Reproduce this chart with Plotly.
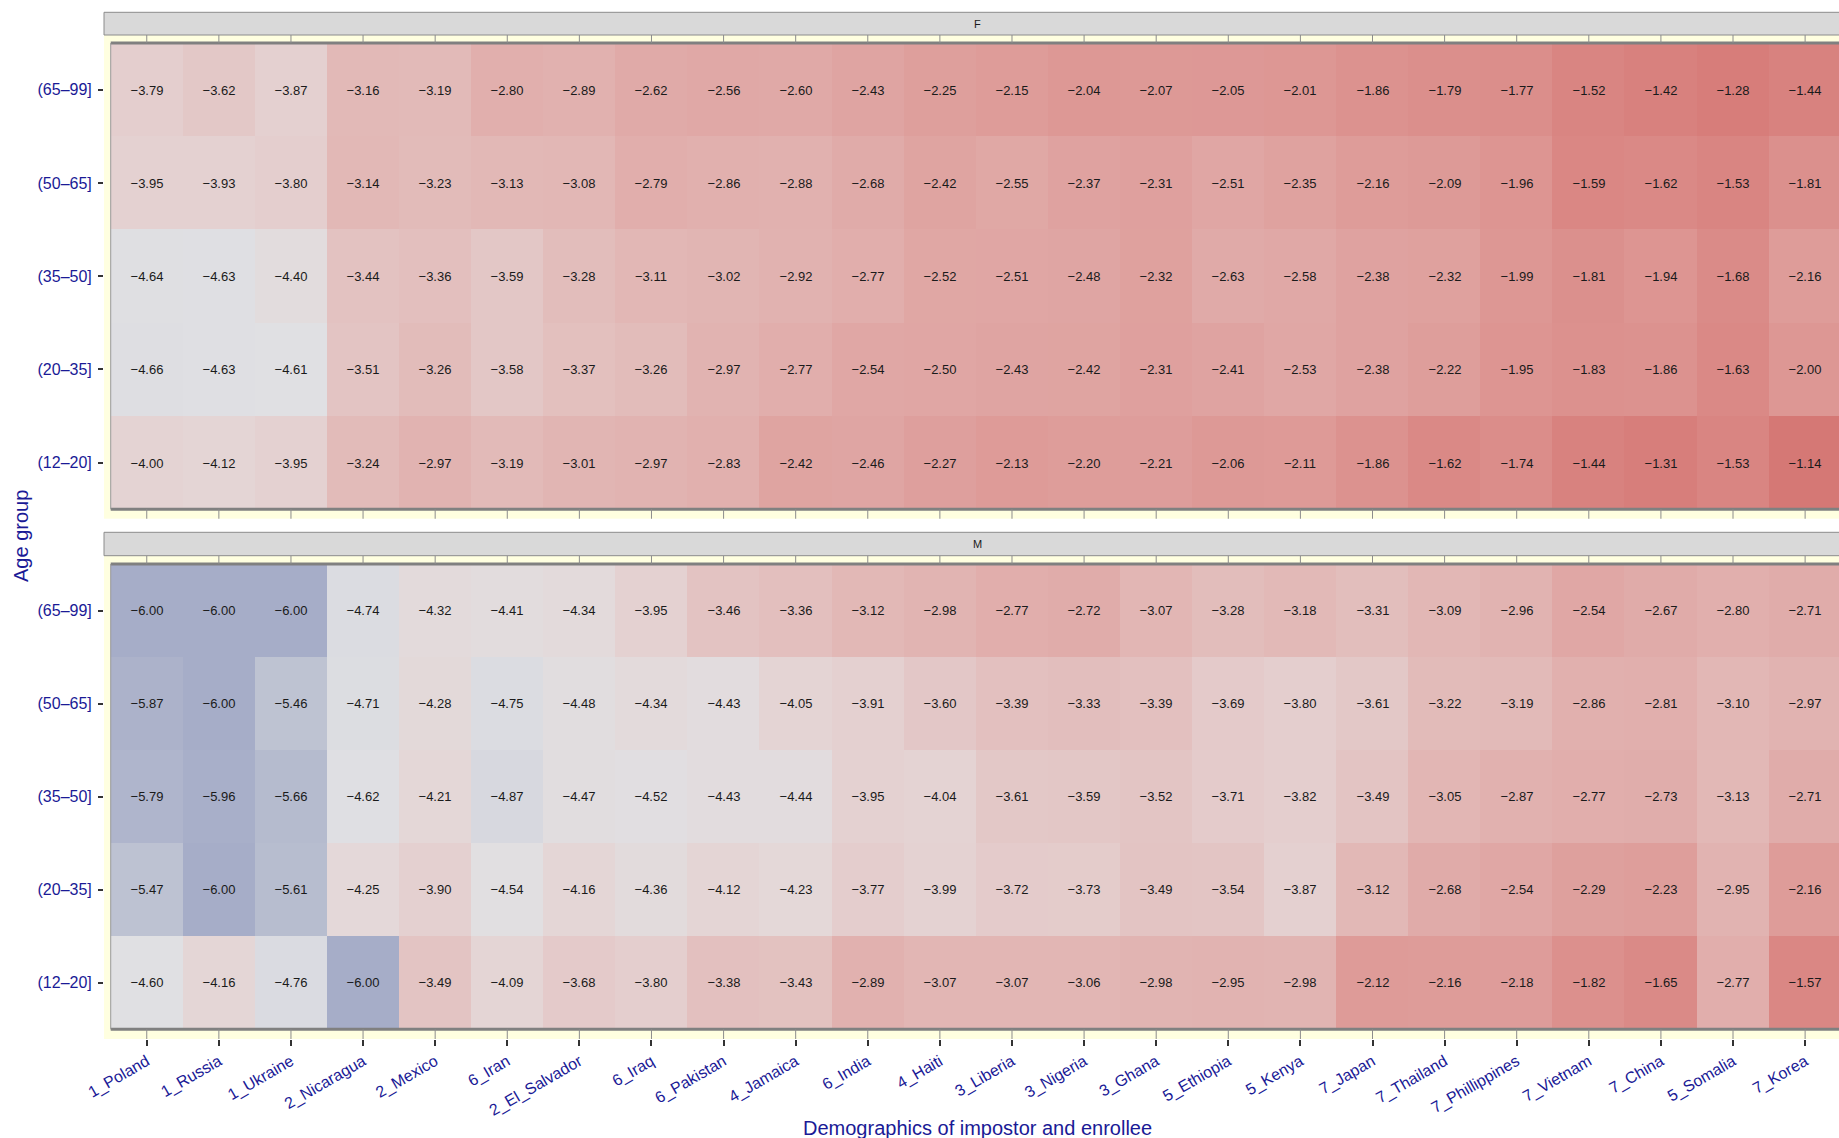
import plotly.graph_objects as go

# categories
countries = ["1_Poland", "1_Russia", "1_Ukraine", "2_Nicaragua", "2_Mexico", "6_Iran",
             "2_El_Salvador", "6_Iraq", "6_Pakistan", "4_Jamaica", "6_India", "4_Haiti",
             "3_Liberia", "3_Nigeria", "3_Ghana", "5_Ethiopia", "5_Kenya", "7_Japan",
             "7_Thailand", "7_Phillippines", "7_Vietnam", "7_China", "5_Somalia", "7_Korea"]
age_groups = ["(12–20]", "(20–35]", "(35–50]", "(50–65]", "(65–99]"]  # bottom -> top

# F panel
f_65_99 = [-3.79, -3.62, -3.87, -3.16, -3.19, -2.80, -2.89, -2.62, -2.56, -2.60, -2.43, -2.25,
           -2.15, -2.04, -2.07, -2.05, -2.01, -1.86, -1.79, -1.77, -1.52, -1.42, -1.28, -1.44]
f_50_65 = [-3.95, -3.93, -3.80, -3.14, -3.23, -3.13, -3.08, -2.79, -2.86, -2.88, -2.68, -2.42,
           -2.55, -2.37, -2.31, -2.51, -2.35, -2.16, -2.09, -1.96, -1.59, -1.62, -1.53, -1.81]
f_35_50 = [-4.64, -4.63, -4.40, -3.44, -3.36, -3.59, -3.28, -3.11, -3.02, -2.92, -2.77, -2.52,
           -2.51, -2.48, -2.32, -2.63, -2.58, -2.38, -2.32, -1.99, -1.81, -1.94, -1.68, -2.16]
f_20_35 = [-4.66, -4.63, -4.61, -3.51, -3.26, -3.58, -3.37, -3.26, -2.97, -2.77, -2.54, -2.50,
           -2.43, -2.42, -2.31, -2.41, -2.53, -2.38, -2.22, -1.95, -1.83, -1.86, -1.63, -2.00]
f_12_20 = [-4.00, -4.12, -3.95, -3.24, -2.97, -3.19, -3.01, -2.97, -2.83, -2.42, -2.46, -2.27,
           -2.13, -2.20, -2.21, -2.06, -2.11, -1.86, -1.62, -1.74, -1.44, -1.31, -1.53, -1.14]

# M panel
m_65_99 = [-6.00, -6.00, -6.00, -4.74, -4.32, -4.41, -4.34, -3.95, -3.46, -3.36, -3.12, -2.98,
           -2.77, -2.72, -3.07, -3.28, -3.18, -3.31, -3.09, -2.96, -2.54, -2.67, -2.80, -2.71]
m_50_65 = [-5.87, -6.00, -5.46, -4.71, -4.28, -4.75, -4.48, -4.34, -4.43, -4.05, -3.91, -3.60,
           -3.39, -3.33, -3.39, -3.69, -3.80, -3.61, -3.22, -3.19, -2.86, -2.81, -3.10, -2.97]
m_35_50 = [-5.79, -5.96, -5.66, -4.62, -4.21, -4.87, -4.47, -4.52, -4.43, -4.44, -3.95, -4.04,
           -3.61, -3.59, -3.52, -3.71, -3.82, -3.49, -3.05, -2.87, -2.77, -2.73, -3.13, -2.71]
m_20_35 = [-5.47, -6.00, -5.61, -4.25, -3.90, -4.54, -4.16, -4.36, -4.12, -4.23, -3.77, -3.99,
           -3.72, -3.73, -3.49, -3.54, -3.87, -3.12, -2.68, -2.54, -2.29, -2.23, -2.95, -2.16]
m_12_20 = [-4.60, -4.16, -4.76, -6.00, -3.49, -4.09, -3.68, -3.80, -3.38, -3.43, -2.89, -3.07,
           -3.07, -3.06, -2.98, -2.95, -2.98, -2.12, -2.16, -2.18, -1.82, -1.65, -2.77, -1.57]

f_rows = [f_12_20, f_20_35, f_35_50, f_50_65, f_65_99]
m_rows = [m_12_20, m_20_35, m_35_50, m_50_65, m_65_99]

# colour stops (value, colour)
ZMIN, ZMAX = -6.0, -1.0
stops = [(-6.0, "#a6adc8"), (-5.5, "#bcc1d1"), (-5.0, "#d2d4dd"), (-4.6, "#e0e0e3"),
         (-4.2, "#e4d7d7"), (-3.8, "#e4cece"), (-3.2, "#e2bab8"), (-2.6, "#e0a9a7"),
         (-2.0, "#dd9794"), (-1.5, "#d98481"), (-1.0, "#d47470")]
colorscale = [[(v - ZMIN) / (ZMAX - ZMIN), c] for v, c in stops]

NAVY = "#1a1a96"
FONT = "Liberation Sans, Arial, sans-serif"


def fmt(v):
    return f"{v:.2f}".replace("-", "\u2212")


fig = go.Figure()
for rows, xa, ya in [(f_rows, "x", "y"), (m_rows, "x2", "y2")]:
    fig.add_trace(go.Heatmap(
        x=countries, y=age_groups, z=rows,
        text=[[fmt(v) for v in r] for r in rows],
        texttemplate="%{text}",
        textfont=dict(size=13, color="#1a1a1a", family=FONT),
        colorscale=colorscale, zmin=ZMIN, zmax=ZMAX,
        showscale=False, xaxis=xa, yaxis=ya, xgap=0, ygap=0,
        hovertemplate="%{x}<br>%{y}: %{text}<extra></extra>",
    ))

W, H = 1839, 1138
xdom = [104 / W, 1]
top_dom = [(H - 518.7) / H, (H - 35) / H]
bot_dom = [(H - 1039) / H, (H - 555.7) / H]
xrange = [-0.593, 23.47]

shapes = []
for yref, xref in [("y", "x"), ("y2", "x2")]:
    # panel edges
    for yy in (-0.5, 4.5):
        shapes.append(dict(type="line", xref=xref, yref=yref, x0=-0.5, x1=23.5, y0=yy, y1=yy,
                           line=dict(color="#808080", width=3), layer="above"))
    shapes.append(dict(type="line", xref=xref, yref=yref, x0=-0.5, x1=-0.5, y0=-0.5, y1=4.5,
                       line=dict(color="#9a9a9a", width=1), layer="above"))
    # small gray ticks in the yellow bands
    for i in range(len(countries)):
        shapes.append(dict(type="line", xref=xref, yref=yref, x0=i, x1=i, y0=4.5, y1=4.7,
                           line=dict(color="#8c8c8c", width=1)))
        shapes.append(dict(type="line", xref=xref, yref=yref, x0=i, x1=i, y0=-0.7, y1=-0.5,
                           line=dict(color="#8c8c8c", width=1)))

# facet strips
for y0, y1, lab in [((H - 35) / H, (H - 12.3) / H, "F"), ((H - 555.7) / H, (H - 532.3) / H, "M")]:
    shapes.append(dict(type="rect", xref="paper", yref="paper", x0=104 / W, x1=1.01, y0=y0, y1=y1,
                       fillcolor="#d9d9d9", line=dict(color="#8c8c8c", width=1)))
    fig.add_annotation(x=977 / W, y=(y0 + y1) / 2, xref="paper", yref="paper", text=lab,
                       xanchor="center", yanchor="middle", showarrow=False,
                       font=dict(size=11, color="#1a1a1a", family=FONT))

fig.add_annotation(x=977 / W, y=(H - 1128) / H, xref="paper", yref="paper",
                   text="Demographics of impostor and enrollee", showarrow=False,
                   xanchor="center", yanchor="middle",
                   font=dict(size=20, color=NAVY, family=FONT))
fig.add_annotation(x=21 / W, y=(H - 536) / H, xref="paper", yref="paper", text="Age group",
                   textangle=-90, showarrow=False, xanchor="center", yanchor="middle",
                   font=dict(size=20, color=NAVY, family=FONT))

yaxis_common = dict(
    type="category", ticks="outside", ticklen=5, tickwidth=2, tickcolor="#333333",
    ticklabelstandoff=3,
    tickfont=dict(size=16, color=NAVY, family=FONT), showgrid=False, zeroline=False,
    showline=False, fixedrange=True, automargin=False,
)

fig.update_layout(
    width=W, height=H,
    margin=dict(l=0, r=0, t=0, b=0, autoexpand=False),
    paper_bgcolor="white",
    plot_bgcolor="#ffffe0",
    font=dict(family=FONT),
    shapes=shapes,
    xaxis=dict(domain=xdom, anchor="y", range=xrange, type="category", showticklabels=False,
               ticks="", showgrid=False, zeroline=False, matches="x2", automargin=False),
    xaxis2=dict(domain=xdom, anchor="y2", range=xrange, type="category", ticks="outside",
                ticklen=6, tickwidth=2, tickcolor="#333333", tickangle=-30,
                tickfont=dict(size=16, color=NAVY, family=FONT), showgrid=False,
                zeroline=False, automargin=False),
    yaxis=dict(domain=top_dom, anchor="x", range=[-0.601, 4.586], **yaxis_common),
    yaxis2=dict(domain=bot_dom, anchor="x2", range=[-0.604, 4.589], **yaxis_common),
)

fig.write_html("out.html", config={"displayModeBar": False},
               post_script="document.body.style.margin='0px';")
